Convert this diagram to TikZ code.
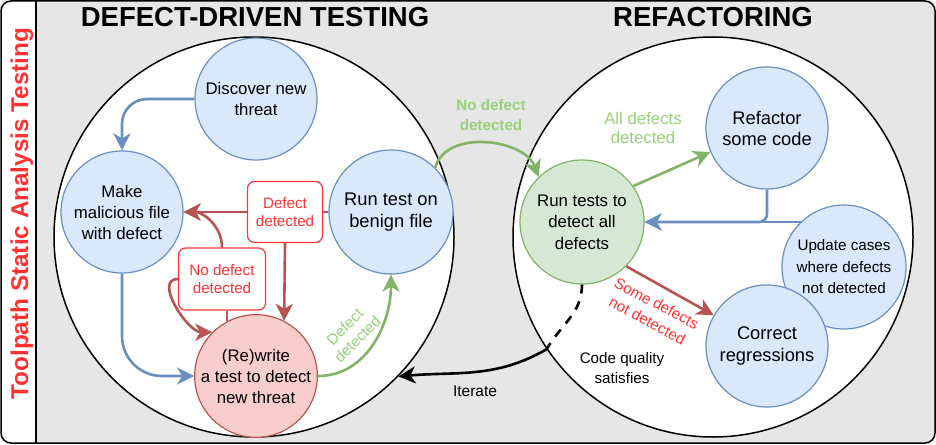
\documentclass[tikz,border=0pt]{standalone}
\usepackage{fontspec}
\setmainfont{Liberation Sans}
\usetikzlibrary{arrows.meta}

\definecolor{bfill}{HTML}{DAE8FC}
\definecolor{bline}{HTML}{6C8EBF}
\definecolor{rfill}{HTML}{F8CECC}
\definecolor{rline}{HTML}{B85450}
\definecolor{gfill}{HTML}{D5E8D4}
\definecolor{gline}{HTML}{82B366}
\definecolor{tred}{HTML}{FF3333}
\definecolor{tgreen}{HTML}{97D077}
\definecolor{panel}{HTML}{E6E6E6}

\begin{document}
\begin{tikzpicture}[x=1pt, y=-1pt,
  blob/.style={circle, draw=bline, fill=bfill, line width=1.2pt,
    minimum size=122pt, inner sep=0pt, align=center},
  redblob/.style={blob, draw=rline, fill=rfill},
  grnblob/.style={blob, draw=gline, fill=gfill},
  ring/.style={circle, draw=black, fill=white, line width=1.5pt,
    minimum size=400pt, inner sep=0pt},
  flagbox/.style={draw=tred, fill=white, rounded corners=7pt, line width=1.2pt,
    inner sep=0pt, align=center, text=tred},
  flowtip/.style={-{Stealth[length=17pt, width=17pt, inset=5pt]}},
  blueflow/.style={draw=bline, line width=2.6pt, flowtip},
  redflow/.style={draw=rline, line width=2.6pt, flowtip},
  redwire/.style={draw=rline, line width=2.6pt},
  greenflow/.style={draw=gline, line width=2.6pt, flowtip},
  blackflow/.style={draw=black, line width=2.6pt, flowtip}]

  \newcommand\fsz[2]{\fontsize{#1pt}{#2pt}\selectfont}

  \useasboundingbox (0,0) rectangle (936,444);

  %% frame
  \begin{scope}
    \clip[rounded corners=10pt] (1,1) rectangle (935,443);
    \fill[white] (1,1) rectangle (36,443);
    \fill[panel] (36,1) rectangle (935,443);
  \end{scope}
  \draw[line width=1.5pt, rounded corners=10pt] (1,1) rectangle (935,443);
  \draw[line width=1.2pt] (36,1) -- (36,443);

  \node[rotate=90, anchor=base, text=tred, font=\fsz{24.3}{29}\bfseries]
  (side) at (28,213.5) {Toolpath Static Analysis Testing};

  \node[anchor=base, font=\fsz{27.5}{33}\bfseries] (ddtitle) at (255,27) {DEFECT-DRIVEN TESTING};
  \node[anchor=base, font=\fsz{27.5}{33}\bfseries] (rftitle) at (713,27) {REFACTORING};

  \node[ring] (ddt) at (254,237) {};
  \node[ring] (rfc) at (713,237) {};

  %% defect-driven testing
  \node[blob, font=\fsz{16.8}{20.7}] (disc) at (256,99) {Discover new\\threat};
  \node[blob, font=\fsz{16.8}{21}] (mal) at (122,212) {Make\\malicious file\\with defect};
  \node[blob, minimum size=124pt, font=\fsz{18.3}{22}] (bengn) at (391,212) {Run test on\\benign file};
  \node[redblob, font=\fsz{16.8}{21}] (rewr) at (256,376) {(Re)write\\a test to detect\\new threat};

  \node[flagbox, minimum width=75pt, minimum height=61pt, font=\fsz{15.2}{18.5}]
  (ddbox) at (285,212) {Defect\\detected};
  \node[flagbox, minimum width=87pt, minimum height=62pt, font=\fsz{15.2}{18.5}]
  (ndbox) at (222,279) {No defect\\detected};

  \draw[blueflow, rounded corners=25pt] (disc.west) -| (mal.north); %% disc -> mal
  \draw[blueflow, rounded corners=40pt] (mal.south) |- (rewr.west); %% mal -> rewr

  \draw[redwire] (bengn) -- (ddbox); %% bengn -> mal (defect)
  \draw[redflow] (ddbox) -- (mal);
  \draw[redflow] (ddbox.south) -- (rewr.63); %% bengn -> rewr (defect)
  \draw[redwire] (rewr.118) -- (rewr.118 |- ndbox.south); %% rewr -> mal (no defect)
  \draw[redflow] (ndbox.north) to[out=90, in=0] (mal.east);
  \draw[redflow] (ndbox.west) to[out=180, in=180] (rewr.135); %% rewr -> rewr

  \draw[greenflow] (rewr.east) to[out=0, in=-90] (bengn.south); %% rewr -> bengn
  \node[rotate=45, text=tgreen, align=center, font=\fsz{15.2}{18}]
  (ddlab) at (351,333) {Defect\\detected};

  %% refactoring
  \node[grnblob, minimum size=124pt, font=\fsz{16.8}{21.5}] (runall) at (582,222) {Run tests to\\detect all\\defects};
  \node[blob, font=\fsz{18.3}{21}] (refac) at (767,128) {Refactor\\some code};
  \node[blob, minimum size=124pt, font=\fsz{15.2}{21.5}] (upd) at (844,267) {Update cases\\where defects\\not detected};
  \node[blob, font=\fsz{18.3}{21.3}] (corr) at (767,346) {Correct\\regressions};

  \draw[greenflow] (bengn.45) to[out=75, in=110] (runall.134); %% bengn -> runall
  \node[text=tgreen, align=center, font=\fsz{15.2}{20}\bfseries]
  (ndlab) at (491,115) {No defect\\detected};

  \draw[greenflow] (runall.35) -- (refac.203); %% runall -> refac
  \node[text=tgreen, align=center, font=\fsz{16.8}{19}]
  (adlab) at (643,128) {All defects\\detected};

  \draw[blueflow, rounded corners=8pt] (refac.south) |- (runall.east); %% refac -> runall
  \draw[blueflow] (upd.134) -- (upd.134 -| runall.east); %% upd -> runall

  \draw[redflow] (runall.-45) -- (corr.150); %% runall -> corr
  \node[rotate=-28, text=tred, align=center, font=\fsz{15.2}{19.5}]
  (sdlab) at (652,312) {Some defects\\not detected};

  %% iterate
  \draw[line width=2.6pt, dash pattern=on 9pt off 8pt]
  (runall.south) to[out=-90, in=60] (rfc.214);
  \draw[blackflow] (rfc.214) to[out=210, in=5] (ddt.-44);
  \node[font=\fsz{15.5}{19}] (itlab) at (475,391) {Iterate};
  \node[align=center, font=\fsz{15.2}{20}] (cqlab) at (622,368) {Code quality\\satisfies};

\end{tikzpicture}
\end{document}
